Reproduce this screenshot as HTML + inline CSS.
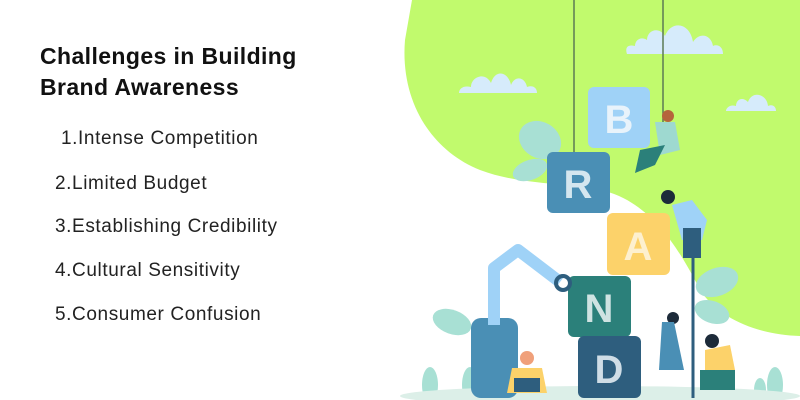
<!DOCTYPE html>
<html><head><meta charset="utf-8"><style>
body{margin:0;width:800px;height:400px;overflow:hidden;background:#fff;font-family:"Liberation Sans",sans-serif;position:relative}
h1{position:absolute;left:40px;top:41px;margin:0;font-size:23px;line-height:31px;font-weight:bold;color:#111;letter-spacing:0.4px}
.li{position:absolute;font-size:19px;color:#222;letter-spacing:0.6px}
svg{position:absolute;left:0;top:0}
</style></head><body>
<svg width="800" height="400" viewBox="0 0 800 400">
<path d="M412 0 L800 0 L800 336 C760 335 720 320 700 290 C680 250 650 200 600 190 C560 182 520 185 480 170 C430 150 400 100 405 40 Z" fill="#c1fa6d"/>
<g fill="#d6ebfb">
<path d="M627 54 h96 c0-8-6-10-10-8 c-2-12-14-14-20-4 c-3-20-22-22-28-6 c-6-10-18-6-18 4 c-6 -4-12 0-12 6 c-8-2-10 2-8 8z"/>
<path d="M459 93 h78 c0-6-5-8-10-6 c-2-10-12-12-16-2 c-3-14-16-16-20-2 c-6-12-20-6-20 4 c-8-2-12 2-12 6z"/>
<path d="M726 111 h50 c0-5-4-7-8-5 c-1-12-16-16-20-4 c-6-6-12-2-12 4 c-6-2-10 2-10 5z"/>
</g>
<g stroke="#5c7a55" stroke-width="1.5"><line x1="574" y1="0" x2="574" y2="152"/><line x1="663" y1="0" x2="663" y2="150"/></g>
<g fill="#a8e0d4">
<ellipse cx="540" cy="140" rx="22" ry="18" transform="rotate(30 540 140)"/>
<ellipse cx="530" cy="170" rx="18" ry="10" transform="rotate(-20 530 170)"/>
<ellipse cx="717" cy="282" rx="22" ry="14" transform="rotate(-20 717 282)"/>
<ellipse cx="712" cy="312" rx="18" ry="11" transform="rotate(20 712 312)"/>
<ellipse cx="452" cy="322" rx="20" ry="12" transform="rotate(20 452 322)"/>
<ellipse cx="430" cy="385" rx="8" ry="18"/><ellipse cx="470" cy="385" rx="8" ry="18"/>
<ellipse cx="775" cy="385" rx="8" ry="18"/><ellipse cx="760" cy="390" rx="6" ry="12"/>
</g>
<ellipse cx="600" cy="396" rx="200" ry="10" fill="#dcefe8"/>
<rect x="588" y="87" width="62" height="61" rx="6" fill="#9fd2f7"/><text x="619" y="133" font-size="40" font-weight="bold" fill="#e8f3fb" text-anchor="middle">B</text>
<rect x="547" y="152" width="63" height="61" rx="6" fill="#4a8fb5"/><text x="578" y="198" font-size="40" font-weight="bold" fill="#d4e6ef" text-anchor="middle">R</text>
<rect x="607" y="213" width="63" height="62" rx="6" fill="#fcd26a"/><text x="638" y="260" font-size="40" font-weight="bold" fill="#fdf0cf" text-anchor="middle">A</text>
<rect x="568" y="276" width="63" height="61" rx="6" fill="#2b807a"/><text x="599" y="322" font-size="40" font-weight="bold" fill="#cfe3e2" text-anchor="middle">N</text>
<rect x="578" y="336" width="63" height="62" rx="6" fill="#2e5e7e"/><text x="609" y="383" font-size="40" font-weight="bold" fill="#cfdde6" text-anchor="middle">D</text>
<rect x="471" y="318" width="47" height="80" rx="10" fill="#4a8fb5"/>
<path d="M494 325 L494 268 L518 250 L560 282" stroke="#9fd2f7" stroke-width="12" fill="none" stroke-linejoin="round"/>
<circle cx="563" cy="283" r="7" fill="none" stroke="#2e5e7e" stroke-width="4"/>
<line x1="693" y1="258" x2="693" y2="398" stroke="#2e5e7e" stroke-width="3"/>
<circle cx="668" cy="116" r="6" fill="#b5643c"/>
<path d="M655 122 l20 0 l5 28 l-20 5z" fill="#9ed9d0"/>
<path d="M640 150 l25 -5 l-10 20 l-20 8z" fill="#2b807a"/>
<circle cx="668" cy="197" r="7" fill="#1d2b3a"/>
<path d="M672 205 l20 -5 l15 20 l-5 20 l-20 0z" fill="#9fd2f7"/>
<rect x="683" y="228" width="18" height="30" fill="#2e5e7e"/>
<circle cx="673" cy="318" r="6" fill="#1d2b3a"/>
<path d="M662 322 l12 0 l10 48 l-25 0z" fill="#4a8fb5"/>
<circle cx="712" cy="341" r="7" fill="#1d2b3a"/>
<path d="M705 350 l25 -5 l5 25 l-30 5z" fill="#fcd26a"/>
<path d="M700 370 l35 0 l0 20 l-35 0z" fill="#2b807a"/>
<circle cx="527" cy="358" r="7" fill="#f0a07a"/>
<path d="M512 368 l30 0 l5 25 l-40 0z" fill="#fcd26a"/>
<rect x="514" y="378" width="26" height="14" fill="#2e5e7e"/>
</svg>
<h1>Challenges in Building<br>Brand Awareness</h1>
<div class="li" style="left:61px;top:128px">1.Intense Competition</div>
<div class="li" style="left:55px;top:173px">2.Limited Budget</div>
<div class="li" style="left:55px;top:216px">3.Establishing Credibility</div>
<div class="li" style="left:55px;top:260px">4.Cultural Sensitivity</div>
<div class="li" style="left:55px;top:304px">5.Consumer Confusion</div>
</body></html>
